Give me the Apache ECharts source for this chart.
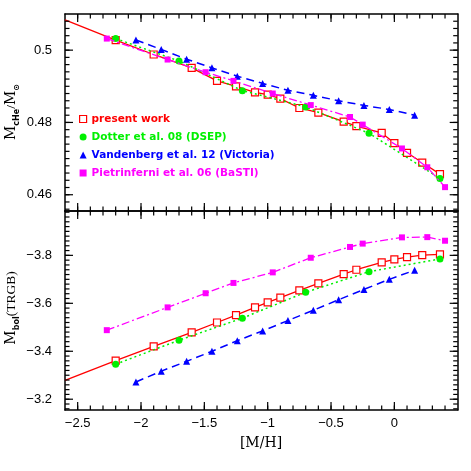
<!DOCTYPE html>
<html><head><meta charset="utf-8">
<script src="https://cdn.jsdelivr.net/npm/echarts@6/dist/echarts.min.js"></script>
<style>html,body{margin:0;padding:0;background:#fff}#c{width:471px;height:471px}</style>
</head><body><div id="c"></div>
<script>
// ---- tick labels ----
const xTickLabels = [-2.5, -2, -1.5, -1, -0.5, 0];
const mcTickLabels = [0.46, 0.48, 0.5];
const mbolTickLabels = [-3.8, -3.6, -3.4, -3.2];

// ---- series names ----
const seriesNames = ['present work', 'Dotter et al. 08 (DSEP)', 'Vandenberg et al. 12 (Victoria)', 'Pietrinferni et al. 06 (BaSTI)'];

// ---- present work ----
const presentX = [-2.2, -1.9, -1.6, -1.4, -1.25, -1.1, -1.0, -0.9, -0.75, -0.6, -0.4, -0.3, -0.1, 0.0, 0.1, 0.22, 0.36];
const presentMc = [0.5028, 0.4988, 0.4951, 0.4915, 0.4900, 0.4883, 0.4877, 0.4866, 0.4840, 0.4827, 0.4802, 0.4790, 0.4771, 0.4743, 0.4716, 0.4689, 0.4657];
const presentMbol = [-3.361, -3.420, -3.479, -3.520, -3.551, -3.583, -3.604, -3.624, -3.654, -3.683, -3.722, -3.740, -3.771, -3.783, -3.793, -3.801, -3.804];
// start of the fitted line (left edge, no marker)
const fitStartX = -2.6;
const fitStartMc = 0.5084;
const fitStartMbol = -3.279;

// ---- Dotter et al. 08 (DSEP) ----
const dotterX = [-2.2, -1.7, -1.2, -0.7, -0.2, 0.36];
const dotterMc = [0.5032, 0.4970, 0.4888, 0.4843, 0.4770, 0.4645];
const dotterMbol = [-3.346, -3.446, -3.538, -3.646, -3.732, -3.785];

// ---- Vandenberg et al. 12 (Victoria) ----
const vdbX = [-2.04, -1.84, -1.64, -1.44, -1.24, -1.04, -0.84, -0.64, -0.44, -0.24, -0.04, 0.16];
const vdbMc = [0.5028, 0.5002, 0.4975, 0.4951, 0.4928, 0.4908, 0.4889, 0.4875, 0.4860, 0.4847, 0.4836, 0.4820];
const vdbMbol = [-3.272, -3.317, -3.358, -3.400, -3.444, -3.485, -3.528, -3.571, -3.615, -3.658, -3.700, -3.738];

// ---- Pietrinferni et al. 06 (BaSTI) ----
const basX = [-2.27, -1.79, -1.49, -1.27, -0.96, -0.66, -0.35, -0.25, 0.06, 0.26, 0.40];
const basMc = [0.5032, 0.4974, 0.4939, 0.4915, 0.4880, 0.4848, 0.4815, 0.4794, 0.4728, 0.4676, 0.4621];
const basMbol = [-3.488, -3.583, -3.642, -3.685, -3.729, -3.790, -3.835, -3.849, -3.875, -3.876, -3.861];

// ---- axis ranges ----
const X_MIN = -2.6, X_MAX = 0.5;
const MC_MIN = 0.4555, MC_MAX = 0.51;
const MBOL_MIN = -3.985, MBOL_MAX = -3.155;

// minor tick positions (axis furniture, not data)
const xMinor = []; for (let k = -25; k <= 4; k++) xMinor.push(k / 10);
const mcMinor = []; for (let k = 456; k <= 508; k += 2) mcMinor.push(k / 1000);
const mbolMinor = []; for (let k = -398; k <= -316; k += 2) mbolMinor.push(k / 100);

// ---- grid geometry ----
const W = 471, GL = 65, GR = 13.3;
const G0 = { top: 14, height: 197 }, G1 = { top: 211, height: 199 };

const fmt = v => String(v).replace('-', '\u2212');
const labelFmt = list => v => list.some(t => Math.abs(t - v) < 1e-9) ? fmt(+v.toFixed(3)) : '';
const labelStyle = { color: '#000', fontSize: 13, fontFamily: 'Liberation Sans, Arial, sans-serif' };
const lineBlack = { color: '#000', width: 1.5 };

function axis(kind, gridIndex, pos, min, max, splitNumber, labels, showLabels, inverse) {
  return {
    type: 'value', gridIndex, position: pos, min, max, splitNumber, inverse: !!inverse,
    splitLine: { show: false },
    axisLine: { show: true, onZero: false, lineStyle: lineBlack },
    axisTick: { show: false },
    axisLabel: Object.assign({
      show: showLabels, showMinLabel: false, showMaxLabel: false,
      formatter: labelFmt(labels), margin: kind === 'x' ? 7 : 13
    }, labelStyle)
  };
}

const xAxes = [
  axis('x', 0, 'bottom', X_MIN, X_MAX, 5, xTickLabels, false),
  axis('x', 0, 'top', X_MIN, X_MAX, 5, xTickLabels, false),
  axis('x', 1, 'bottom', X_MIN, X_MAX, 5, xTickLabels, true),
  axis('x', 1, 'top', X_MIN, X_MAX, 5, xTickLabels, false)
];
const yAxes = [
  axis('y', 0, 'left', MC_MIN, MC_MAX, 3, mcTickLabels, true),
  axis('y', 0, 'right', MC_MIN, MC_MAX, 3, mcTickLabels, false),
  axis('y', 1, 'left', MBOL_MIN, MBOL_MAX, 4, mbolTickLabels, true, true),
  axis('y', 1, 'right', MBOL_MIN, MBOL_MAX, 4, mbolTickLabels, false, true)
];

const styles = [
  { color: '#ff0000', symbol: 'rect', size: 7, fill: '#ffffff', line: { type: 'solid', width: 1.3 } },
  { color: '#00f000', symbol: 'circle', size: 7, fill: '#00f000', line: { type: [2, 3], width: 1.5 } },
  { color: '#0000ff', symbol: 'triangle', size: 7, fill: '#0000ff', line: { type: [8, 5], width: 1.5 } },
  { color: '#ff00ff', symbol: 'rect', size: 6, fill: '#ff00ff', line: { type: [8, 3, 2, 3], width: 1.3 } }
];

function pts(xs, ys) { return xs.map((x, i) => [x, ys[i]]); }
const dataTop = [pts(presentX, presentMc), pts(dotterX, dotterMc), pts(vdbX, vdbMc), pts(basX, basMc)];
const dataBot = [pts(presentX, presentMbol), pts(dotterX, dotterMbol), pts(vdbX, vdbMbol), pts(basX, basMbol)];

const series = [];
// extension of the present-work fit to the left edge (no markers)
series.push({ type: 'line', xAxisIndex: 0, yAxisIndex: 0, symbol: 'none', silent: true, z: 2,
  data: [[fitStartX, fitStartMc], [presentX[0], presentMc[0]]], lineStyle: { color: '#ff0000', width: 1.3 } });
series.push({ type: 'line', xAxisIndex: 2, yAxisIndex: 2, symbol: 'none', silent: true, z: 2,
  data: [[fitStartX, fitStartMbol], [presentX[0], presentMbol[0]]], lineStyle: { color: '#ff0000', width: 1.3 } });
[[dataTop, 0], [dataBot, 2]].forEach(([dset, ai]) => {
  dset.forEach((d, i) => {
    const s = styles[i];
    series.push({
      type: 'line', name: seriesNames[i], xAxisIndex: ai, yAxisIndex: ai,
      data: d, symbol: s.symbol, symbolSize: s.size, showSymbol: true,
      lineStyle: Object.assign({ color: s.color }, s.line),
      itemStyle: { color: s.fill, borderColor: s.color, borderWidth: i === 0 ? 1.2 : 0 },
      emphasis: { disabled: true }, silent: true, z: 2 + i
    });
  });
});

const legendData = seriesNames.map((n, i) => ({
  name: n, icon: styles[i].symbol,
  itemStyle: { color: styles[i].fill, borderColor: styles[i].color, borderWidth: i === 0 ? 1.2 : 0 },
  textStyle: { color: styles[i].color }
}));

// ---- tick marks (inward, all four sides) ----
const MAJOR = 8, MINOR = 4.5;
const GW = W - GL - GR;
const pxX = v => GL + (v - X_MIN) / (X_MAX - X_MIN) * GW;
const tickEls = [];
const st = { stroke: '#000', lineWidth: 1.2 };
function addLine(x1, y1, x2, y2) {
  tickEls.push({ type: 'line', silent: true, z: 100, shape: { x1, y1, x2, y2 }, style: st });
}
function gridTicks(G, pyOf, yMajor, yMinorList) {
  const yb = G.top + G.height, yt = G.top, xl = GL, xr = GL + GW;
  const xt = (v, len) => { const x = pxX(v); addLine(x, yb, x, yb - len); addLine(x, yt, x, yt + len); };
  const ytk = (v, len) => { const y = pyOf(v); addLine(xl, y, xl + len, y); addLine(xr, y, xr - len, y); };
  xMinor.forEach(v => xt(v, MINOR));
  xTickLabels.forEach(v => xt(v, MAJOR));
  yMinorList.forEach(v => ytk(v, MINOR));
  yMajor.forEach(v => ytk(v, MAJOR));
}
gridTicks(G0, v => G0.top + (MC_MAX - v) / (MC_MAX - MC_MIN) * G0.height, mcTickLabels, mcMinor);
gridTicks(G1, v => G1.top + (v - MBOL_MIN) / (MBOL_MAX - MBOL_MIN) * G1.height, mbolTickLabels, mbolMinor);

const serif = 'Liberation Serif, DejaVu Serif, serif';
const titleRich = {
  M: { fontSize: 14, fontFamily: 'DejaVu Serif, serif', fill: '#000', lineHeight: 20, verticalAlign: 'middle' },
  m: { fontSize: 13.5, fontFamily: serif, fill: '#000', lineHeight: 20, verticalAlign: 'middle' },
  s: { fontSize: 8, fontFamily: 'DejaVu Sans, sans-serif', fontWeight: 'bold', fill: '#000', lineHeight: 8, verticalAlign: 'bottom' }
};
const option = {
  animation: false,
  backgroundColor: '#fff',
  grid: [
    { left: GL, right: GR, top: G0.top, height: G0.height, containLabel: false, outerBoundsMode: 'none' },
    { left: GL, right: GR, top: G1.top, height: G1.height, containLabel: false, outerBoundsMode: 'none' }
  ],
  xAxis: xAxes,
  yAxis: yAxes,
  legend: {
    data: legendData, orient: 'vertical', left: 79, top: 113, padding: 0,
    itemWidth: 7, itemHeight: 7, itemGap: 6, selectedMode: false,
    textStyle: { fontSize: 10.5, fontWeight: 'bold', fontFamily: 'DejaVu Sans, sans-serif', lineHeight: 12 }
  },
  graphic: [
    {
      type: 'text', x: 11, y: 112, rotation: Math.PI / 2,
      style: { text: '{M|M}{s|cHe}{m|/}{M|M}{s|\u2299}', align: 'center', verticalAlign: 'middle', rich: titleRich }
    },
    {
      type: 'text', x: 11, y: 308, rotation: Math.PI / 2,
      style: { text: '{M|M}{s|bol}{m|(TRGB)}', align: 'center', verticalAlign: 'middle', rich: titleRich }
    },
    {
      type: 'text', x: 261, y: 443,
      style: { text: '[M/H]', fontSize: 14, fontFamily: 'DejaVu Serif, serif', fill: '#000', align: 'center', verticalAlign: 'middle' }
    }
  ].concat(tickEls),
  series
};
const chart = echarts.init(document.getElementById('c'), null, { renderer: 'canvas' });
chart.setOption(option);
</script>
</body></html>
